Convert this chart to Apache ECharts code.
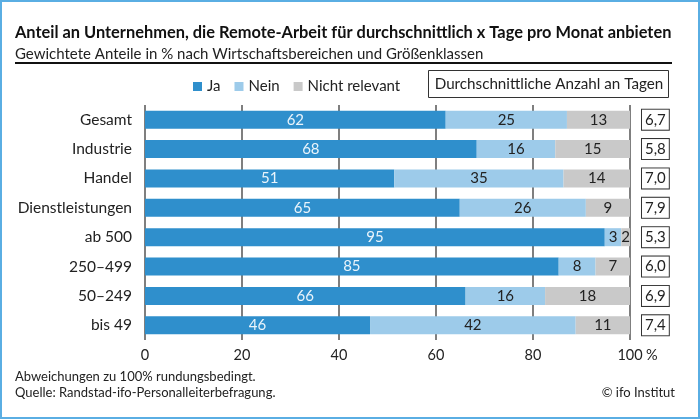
<!DOCTYPE html>
<html>
<head>
<meta charset="utf-8">
<script src="https://cdn.jsdelivr.net/npm/echarts@6/dist/echarts.min.js"></script>
<style>
html,body{margin:0;padding:0;background:#fff;}
#c{width:700px;height:419px;}
</style>
</head>
<body>
<div id="c"></div>
<script>
const categories = ['Gesamt','Industrie','Handel','Dienstleistungen','ab 500','250–499','50–249','bis 49'];
const ja = [62.0, 68.4, 51.4, 64.9, 94.8, 85.3, 66.1, 46.4];
const nein = [25.0, 16.2, 34.9, 26.0, 3.4, 7.6, 16.4, 42.4];
const nichtRelevant = [13.0, 15.4, 13.7, 9.1, 1.8, 7.1, 17.5, 11.2];
const tage = ['6,7','5,8','7,0','7,9','5,3','6,0','6,9','7,4'];
const xTicks = [0,20,40,60,80,100];

const FONT = 'Lato';
const chart = echarts.init(document.getElementById('c'));
const lbl = (color) => ({show:true, position:'inside', fontFamily:FONT, fontSize:15, color:color,
  formatter: p => Math.round(p.value)});
chart.setOption({
  animation:false,
  textStyle:{fontFamily:FONT},
  graphic:[
    {type:'rect', shape:{x:1,y:1,width:698,height:417}, style:{fill:'none', stroke:'#5aaee3', lineWidth:2}},
    {type:'text', left:15, top:25, style:{text:'Anteil an Unternehmen, die Remote-Arbeit für durchschnittlich x Tage pro Monat anbieten', font:'bold 16.4px '+FONT, fill:'#111'}},
    {type:'text', left:15, top:47, style:{text:'Gewichtete Anteile in % nach Wirtschaftsbereichen und Größenklassen', font:'15px '+FONT, fill:'#222'}},
    {type:'rect', shape:{x:15,y:62,width:657,height:2}, style:{fill:'#111'}},
    {type:'rect', shape:{x:428.5,y:70.5,width:240,height:27}, style:{fill:'#fff', stroke:'#333', lineWidth:1}},
    {type:'text', x:549, y:84, style:{text:'Durchschnittliche Anzahl an Tagen', font:'15.2px '+FONT, fill:'#222', align:'center', verticalAlign:'middle'}},
    {type:'text', x:646, y:355, style:{text:'%', font:'14.5px '+FONT, fill:'#222', verticalAlign:'middle'}},
    {type:'text', left:15, top:369, style:{text:'Abweichungen zu 100% rundungsbedingt.\nQuelle: Randstad-ifo-Personalleiterbefragung.', font:'13px '+FONT, fill:'#222', lineHeight:16}},
    {type:'text', right:25, top:386, style:{text:'© ifo Institut', font:'13px '+FONT, fill:'#222'}}
  ],
  legend:{
    left:188, top:74, itemWidth:9, itemHeight:9, itemGap:14,
    icon:'rect',
    textStyle:{fontFamily:FONT, fontSize:15, color:'#222'},
    data:['Ja','Nein','Nicht relevant']
  },
  grid:{left:145, right:70, top:105, bottom:79},
  xAxis:{
    type:'value', min:0, max:100, interval:20,
    axisLine:{show:false}, axisTick:{show:false},
    axisLabel:{fontFamily:FONT, fontSize:14.5, color:'#222', margin:8},
    splitLine:{show:true, lineStyle:{color:'#555', width:1.5}}
  },
  yAxis:[
    {type:'category', data:categories, inverse:true,
     axisLine:{show:false}, axisTick:{show:false},
     axisLabel:{fontFamily:FONT, fontSize:15.5, color:'#222', margin:13}},
    {type:'category', data:tage, inverse:true, position:'right',
     axisLine:{show:false}, axisTick:{show:false},
     axisLabel:{interval:0, fontFamily:FONT, fontSize:15, color:'#222', margin:12,
       backgroundColor:'#fff', borderColor:'#333', borderWidth:1, padding:[3,3,2,3]}}
  ],
  series:[
    {name:'Ja', type:'bar', stack:'t', data:ja, barWidth:18, itemStyle:{color:'#2f8fcc'}, label:lbl('#eaf4fb')},
    {name:'Nein', type:'bar', stack:'t', data:nein, barWidth:18, itemStyle:{color:'#9dcbea'}, label:lbl('#222')},
    {name:'Nicht relevant', type:'bar', stack:'t', data:nichtRelevant, barWidth:18, itemStyle:{color:'#c9c9c9'}, label:lbl('#222')}
  ]
});
</script>
</body>
</html>
